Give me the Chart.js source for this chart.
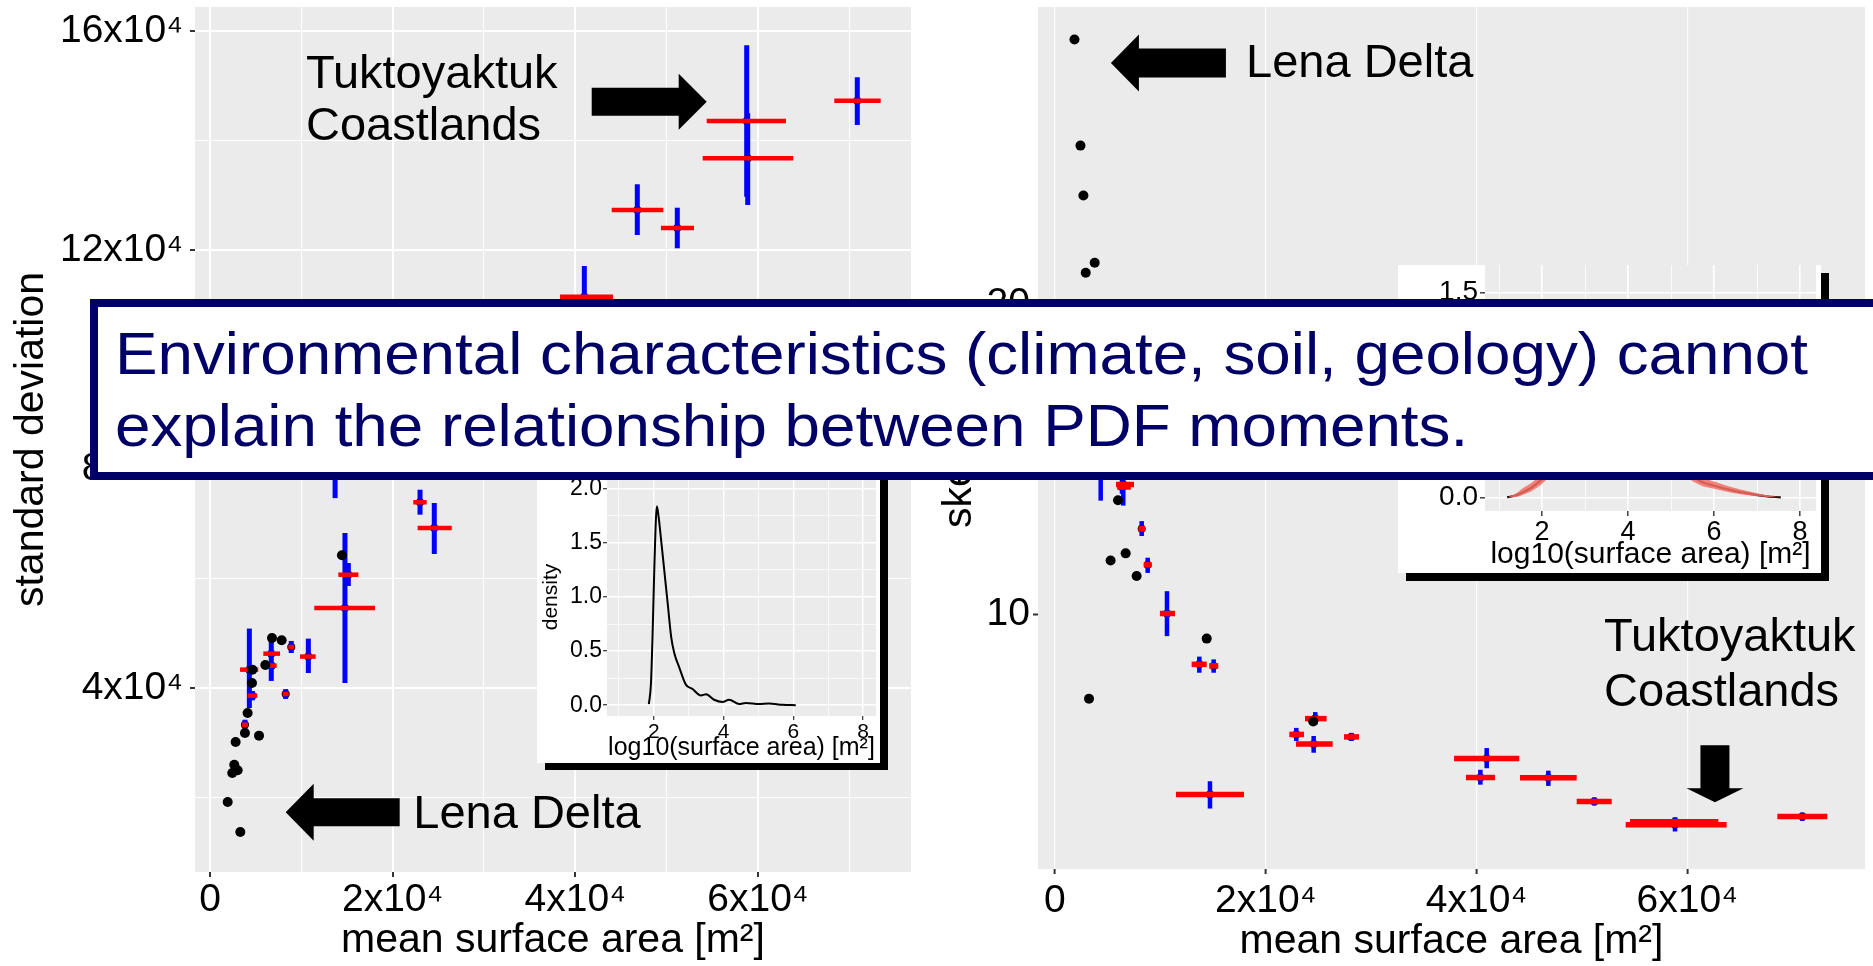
<!DOCTYPE html>
<html>
<head>
<meta charset="utf-8">
<script src="https://cdn.jsdelivr.net/npm/chart.js@4.4.0/dist/chart.umd.min.js"></script>
<style>
  html, body { margin: 0; padding: 0; background: #fff; }
  #page { position: relative; width: 1873px; height: 966px; overflow: hidden; background: #fff; }
  .box { position: absolute; }
  .shadow { position: absolute; background: #000; }
  .inset { position: absolute; background: #fff; }
  #banner {
    position: absolute; left: 90px; top: 299px; width: 1800px; height: 165px;
    background: #fff; border: 8px solid #000066; border-right: none;
  }
  #bannerText {
    position: absolute; left: 17px; top: 11px; white-space: nowrap;
    font-family: "Liberation Sans", Arial, sans-serif; font-size: 60px; line-height: 72px;
    color: #000066; transform-origin: 0 0;
  }
</style>
</head>
<body>
<div id="page">
  <div class="box" style="left:0;top:0;width:930px;height:966px"><canvas id="cL" width="930" height="966"></canvas></div>
  <div class="box" style="left:930px;top:0;width:943px;height:966px"><canvas id="cR" width="943" height="966"></canvas></div>

  <div class="shadow" style="left:545px;top:387px;width:343px;height:383px"></div>
  <div class="inset" style="left:537px;top:380px;width:343px;height:383px"><canvas id="iL" width="343" height="383"></canvas></div>

  <div class="shadow" style="left:1406px;top:273px;width:423px;height:308px"></div>
  <div class="inset" style="left:1398px;top:265px;width:423px;height:308px"><canvas id="iR" width="423" height="308"></canvas></div>

  <div id="banner"><div id="bannerText">Environmental characteristics (climate, soil, geology) cannot<br>explain the relationship between PDF moments.</div></div>
</div>
<script>
// ---- left panel: mean surface area vs standard deviation (sites with error bars)
var sdBarArea   = [58770, 58880, 70880, 46790, 51170, 40990, 13700, 23000, 24560, 15150, 14780, 4310, 4640, 3830, 8900, 6710, 6750, 10770, 8290];
var sdBarSd     = [143570, 136750, 147270, 127310, 124030, 111480, 82000, 73940, 69250, 60720, 54640, 43380, 38630, 33330, 47520, 46300, 44110, 45770, 38930];
var sdBarAreaLo = [54390, 53950, 68360, 43990, 49380, 38330, 12800, 22260, 22740, 14050, 11420, 3290, 4110, 3500, 8570, 5840, 6200, 9860, 7960];
var sdBarAreaHi = [63070, 63870, 73440, 49640, 53000, 44130, 14600, 23730, 26470, 16250, 18070, 5290, 5170, 4160, 9230, 7670, 7300, 11570, 8620];
var sdBarSdLo   = [129750, 128230, 142840, 122750, 120320, 105900, 74700, 71680, 64500, 58660, 40940, 36380, 37780, 32420, 46420, 41320, 43500, 42770, 38030];
var sdBarSdHi   = [157400, 145000, 151550, 132010, 127730, 117090, 89000, 76240, 73810, 62860, 68330, 50880, 39480, 34240, 48620, 48620, 44700, 49040, 39830];
// sites drawn as plain black dots
var sdDotArea = [14450, 4640, 4600, 4120, 3830, 5370, 2810, 2660, 2440, 3030, 1940, 3320, 6790, 7850, 6060];
var sdDotSd   = [64260, 43380, 40940, 35470, 31820, 31330, 30170, 26030, 24510, 25010, 19210, 13740, 49160, 48740, 44230];

// ---- right panel: mean surface area vs skewness
var skBarArea   = [4340, 6480, 6360, 8230, 8800, 10630, 13700, 15060, 24700, 22900, 24550, 28120, 14710, 40970, 40370, 46820, 51180, 58840, 58840, 70920];
var skBarSkew   = [14.6, 14.20, 14.12, 12.77, 11.61, 10.04, 8.40, 8.35, 6.65, 6.14, 5.83, 6.06, 4.20, 5.36, 4.75, 4.74, 3.98, 3.32, 3.23, 3.49];
var skBarAreaLo = [4100, 5790, 5900, 7920, 8430, 9960, 12970, 14640, 23730, 22240, 22870, 27430, 11480, 37870, 39000, 44130, 49510, 54570, 54160, 68550];
var skBarAreaHi = [4580, 7500, 7200, 8540, 9170, 11390, 14400, 15500, 25780, 23630, 26350, 28850, 17940, 44060, 41760, 49510, 52830, 62950, 63740, 73290];
var skBarSkewLo = [13.68, 13.52, 13.9, 12.54, 11.35, 9.31, 8.13, 8.13, 6.46, 5.93, 5.55, 5.93, 3.75, 5.05, 4.52, 4.48, 3.85, 3.25, 3.01, 3.35];
var skBarSkewHi = [15.5, 14.9, 14.35, 13.02, 11.84, 10.76, 8.65, 8.56, 6.86, 6.35, 6.09, 6.19, 4.63, 5.70, 5.00, 4.97, 4.11, 3.40, 3.47, 3.62];
var skDotArea = [1850, 2420, 2700, 3770, 2920, 5980, 6710, 5280, 7750, 14400, 3230, 24510];
var skDotSkew = [28.55, 25.13, 23.52, 21.35, 21.03, 13.69, 11.98, 11.75, 11.25, 9.23, 7.29, 6.56];

// ---- insets: density of log10(surface area)
var densLX = [1.86, 1.92, 1.97, 2.02, 2.09, 2.14, 2.21, 2.30, 2.40, 2.50, 2.59, 2.73, 2.92, 3.11, 3.35, 3.50, 3.73, 3.97, 4.16, 4.45, 4.64, 5.02, 5.30, 5.69, 6.07];
var densLY = [0.01, 0.2, 0.69, 1.31, 1.84, 1.74, 1.53, 1.25, 0.94, 0.63, 0.48, 0.35, 0.19, 0.15, 0.09, 0.10, 0.05, 0.03, 0.05, 0.01, 0.02, 0.01, 0.015, 0.003, 0];
var densRX  = [1.19, 1.4, 1.57, 1.75, 1.88, 2.2, 2.6, 3.0, 3.4, 3.8, 4.2, 4.6, 5.0, 5.35, 5.67, 6.0, 6.44, 6.8, 7.2, 7.55];
var densRY  = [0, 0.015, 0.04, 0.07, 0.10, 0.2, 0.38, 0.58, 0.74, 0.80, 0.76, 0.6, 0.38, 0.2, 0.12, 0.085, 0.05, 0.028, 0.008, 0];
var densRLo = [0, 0.002, 0.02, 0.045, 0.07, 0.16, 0.33, 0.53, 0.69, 0.75, 0.71, 0.55, 0.33, 0.16, 0.09, 0.062, 0.032, 0.015, 0.002, 0];
var densRHi = [0, 0.03, 0.07, 0.105, 0.14, 0.25, 0.44, 0.64, 0.80, 0.86, 0.82, 0.66, 0.44, 0.25, 0.16, 0.115, 0.072, 0.045, 0.017, 0];

// ---- tick values
var areaTicks  = [0, 20000, 40000, 60000];
var areaMinor  = [10000, 30000, 50000, 70000];
var sdTicks    = [40000, 80000, 120000, 160000];
var sdMinor    = [20000, 60000, 100000, 140000];
var skewTicks  = [10, 20];
var logTicks   = [2, 4, 6, 8];
var logMinor   = [1, 3, 5, 7];
var densTicksL = [0, 0.5, 1, 1.5, 2];
var densMinorL = [0.25, 0.75, 1.25, 1.75];
var densTicksR = [0, 0.5, 1, 1.5];
var densMinorR = [0.25, 0.75, 1.25];

var fam = '"Liberation Sans", Arial, sans-serif';

function pow4(v) { return v === 0 ? '0' : (v / 10000) + 'x10\u2074'; }
function oneDec(v) { return v.toFixed(1); }
function pts(xs, ys) { return xs.map(function (x, i) { return {x: x, y: ys[i]}; }); }

function axis(o) {
    var major = new Set(o.major);
    var all = o.major.concat(o.minor || []).sort(function (a, b) { return a - b; });
    var isMajor = function (c) { return c.tick && major.has(c.tick.value); };
    return {
        type: 'linear', min: o.min, max: o.max,
        afterBuildTicks: function (s) { s.ticks = all.map(function (v) { return {value: v}; }); },
        afterFit: function (s) {
            if (o.horiz) s.height = o.size; else s.width = o.size;
            s.paddingTop = s.paddingBottom = s.paddingLeft = s.paddingRight = 0;
        },
        border: {display: false},
        grid: {
            color: function (c) { return isMajor(c) ? o.gMajor : o.gMinor; },
            lineWidth: function (c) { return isMajor(c) ? o.wMajor : o.wMinor; },
            drawTicks: true,
            tickLength: o.tickLen,
            tickColor: function (c) { return isMajor(c) ? '#333333' : 'rgba(0,0,0,0)'; },
            tickWidth: o.tickW
        },
        ticks: {
            autoSkip: false, maxRotation: 0, minRotation: 0, padding: o.pad, color: '#000',
            font: {family: fam, size: o.font},
            callback: function (v) { return major.has(v) ? o.label(v) : ''; }
        },
        title: {
            display: true, text: o.title, color: '#000',
            font: {family: fam, size: o.titleFont}, padding: o.titlePad
        }
    };
}

var panelBg = {
    id: 'panelBg',
    beforeDraw: function (chart) {
        var a = chart.chartArea, ctx = chart.ctx;
        ctx.save();
        ctx.fillStyle = '#EBEBEB';
        ctx.fillRect(a.left, a.top, a.right - a.left, a.bottom - a.top);
        ctx.restore();
    }
};

function errorBars(b, blueW, redW) {
    return {
        id: 'errorBars',
        afterDatasetDraw: function (chart, args) {
            if (args.index !== 1) return;
            var ctx = chart.ctx, a = chart.chartArea, xs = chart.scales.x, ys = chart.scales.y;
            ctx.save();
            ctx.beginPath(); ctx.rect(a.left, a.top, a.right - a.left, a.bottom - a.top); ctx.clip();
            ctx.strokeStyle = '#0000FF'; ctx.lineWidth = blueW;
            b.x.forEach(function (v, i) {
                var px = xs.getPixelForValue(v);
                ctx.beginPath();
                ctx.moveTo(px, ys.getPixelForValue(b.yLo[i]));
                ctx.lineTo(px, ys.getPixelForValue(b.yHi[i]));
                ctx.stroke();
            });
            ctx.strokeStyle = '#FF0000'; ctx.lineWidth = redW;
            b.x.forEach(function (v, i) {
                var py = ys.getPixelForValue(b.y[i]);
                ctx.beginPath();
                ctx.moveTo(xs.getPixelForValue(b.xLo[i]), py);
                ctx.lineTo(xs.getPixelForValue(b.xHi[i]), py);
                ctx.stroke();
            });
            ctx.restore();
        }
    };
}

function drawArrow(ctx, tx, ty, dir, len, shaft, head, headW) {
    var d = {right: [1, 0], left: [-1, 0], down: [0, 1]}[dir];
    var n = [-d[1], d[0]];
    function p(a, b) { return [tx - d[0] * a + n[0] * b, ty - d[1] * a + n[1] * b]; }
    var poly = [p(0, 0), p(head, headW / 2), p(head, shaft / 2), p(len, shaft / 2),
                p(len, -shaft / 2), p(head, -shaft / 2), p(head, -headW / 2)];
    ctx.beginPath();
    poly.forEach(function (q, i) { if (i) ctx.lineTo(q[0], q[1]); else ctx.moveTo(q[0], q[1]); });
    ctx.closePath();
    ctx.fillStyle = '#000';
    ctx.fill();
}

function notes(cfg) {
    return {
        id: 'notes',
        afterDraw: function (chart) {
            var ctx = chart.ctx, xs = chart.scales.x, ys = chart.scales.y;
            ctx.save();
            cfg.arrows.forEach(function (a) {
                drawArrow(ctx, xs.getPixelForValue(a.x), ys.getPixelForValue(a.y), a.dir, a.len, a.shaft, a.head, a.headW);
            });
            ctx.fillStyle = '#000';
            ctx.font = cfg.size + 'px ' + fam;
            ctx.textBaseline = 'alphabetic';
            ctx.textAlign = 'left';
            cfg.texts.forEach(function (t) {
                var x = xs.getPixelForValue(t.x), y = ys.getPixelForValue(t.y);
                t.lines.forEach(function (s, i) { ctx.fillText(s, x, y + i * t.lead); });
            });
            ctx.restore();
        }
    };
}

function mainChart(id, dots, bars, xAxis, yAxis, pad, barW, note) {
    return new Chart(document.getElementById(id), {
        type: 'scatter',
        data: {
            datasets: [
                {data: dots, pointRadius: 5, backgroundColor: '#000', borderWidth: 0, order: 1},
                {data: pts(bars.x, bars.y), pointRadius: 4, backgroundColor: '#000', borderWidth: 0, order: 2}
            ]
        },
        options: {
            responsive: false, animation: false, events: [],
            layout: {padding: pad},
            plugins: {legend: {display: false}, tooltip: {enabled: false}},
            scales: {x: xAxis, y: yAxis}
        },
        plugins: [panelBg, errorBars(bars, barW[0], barW[1]), notes(note)]
    });
}

// left main panel
mainChart('cL',
    pts(sdDotArea, sdDotSd),
    {x: sdBarArea, y: sdBarSd, xLo: sdBarAreaLo, xHi: sdBarAreaHi, yLo: sdBarSdLo, yHi: sdBarSdHi},
    axis({horiz: true, min: -1640, max: 76760, major: areaTicks, minor: areaMinor, size: 94,
          gMajor: '#FFFFFF', gMinor: '#FFFFFF', wMajor: 2, wMinor: 1, tickLen: 5, tickW: 2,
          pad: 0, font: 39, label: pow4, title: 'mean surface area [m\u00B2]', titleFont: 41, titlePad: {top: 0, bottom: 1}}),
    axis({min: 6430, max: 164380, major: sdTicks, minor: sdMinor, size: 195,
          gMajor: '#FFFFFF', gMinor: '#FFFFFF', wMajor: 2, wMinor: 1, tickLen: 5, tickW: 2,
          pad: 7, font: 39, label: pow4, title: 'standard deviation', titleFont: 41, titlePad: {top: 7, bottom: 0}}),
    {top: 7, right: 19, left: 0, bottom: 0},
    [5, 4.5],
    {size: 47,
     texts: [{lines: ['Tuktoyaktuk', 'Coastlands'], x: 10510, y: 149590, lead: 52},
             {lines: ['Lena Delta'], x: 22260, y: 14470, lead: 0}],
     arrows: [{x: 54390, y: 147090, dir: 'right', len: 115, shaft: 28, head: 28, headW: 56},
              {x: 8290, y: 17340, dir: 'left', len: 114, shaft: 28, head: 28, headW: 57}]}
);

// right main panel
mainChart('cR',
    pts(skDotArea, skDotSkew),
    {x: skBarArea, y: skBarSkew, xLo: skBarAreaLo, xHi: skBarAreaHi, yLo: skBarSkewLo, yHi: skBarSkewHi},
    axis({horiz: true, min: -1610, max: 76870, major: areaTicks, minor: [], size: 97,
          gMajor: 'rgba(255,255,255,0.85)', gMinor: 'rgba(0,0,0,0)', wMajor: 1.2, wMinor: 0, tickLen: 5, tickW: 2,
          pad: 4, font: 39, label: pow4, title: 'mean surface area [m\u00B2]', titleFont: 41, titlePad: {top: 0, bottom: 0}}),
    axis({min: 1.8, max: 29.6, major: skewTicks, minor: [], size: 108,
          gMajor: 'rgba(0,0,0,0)', gMinor: 'rgba(0,0,0,0)', wMajor: 1, wMinor: 0, tickLen: 5, tickW: 2,
          pad: 3, font: 39, label: String, title: 'skewness', titleFont: 41, titlePad: {top: 5, bottom: 0}}),
    {top: 7, right: 8, left: 0, bottom: 0},
    [4.5, 5.5],
    {size: 47,
     texts: [{lines: ['Lena Delta'], x: 18130, y: 27.35, lead: 0},
             {lines: ['Tuktoyaktuk', 'Coastlands'], x: 52100, y: 8.82, lead: 55}],
     arrows: [{x: 5310, y: 27.79, dir: 'left', len: 115, shaft: 29, head: 28, headW: 57},
              {x: 62630, y: 3.95, dir: 'down', len: 57, shaft: 29, head: 14, headW: 57}]}
);

function insetChart(id, datasets, xAxis, yAxis, pad) {
    return new Chart(document.getElementById(id), {
        type: 'line',
        data: {datasets: datasets},
        options: {
            responsive: false, animation: false, events: [],
            layout: {padding: pad},
            plugins: {legend: {display: false}, tooltip: {enabled: false}},
            scales: {x: xAxis, y: yAxis}
        },
        plugins: [panelBg]
    });
}

insetChart('iL',
    [{data: pts(densLX, densLY), borderColor: '#000', borderWidth: 2, pointRadius: 0, cubicInterpolationMode: 'monotone', fill: false}],
    axis({horiz: true, min: 0.66, max: 8.37, major: logTicks, minor: logMinor, size: 47,
          gMajor: '#FFFFFF', gMinor: '#FFFFFF', wMajor: 1.4, wMinor: 0.7, tickLen: 4, tickW: 1.2,
          pad: 0, font: 21, label: String, title: 'log10(surface area) [m\u00B2]', titleFont: 25, titlePad: {top: 0, bottom: 0}}),
    axis({min: -0.1, max: 2.1, major: densTicksL, minor: densMinorL, size: 70,
          gMajor: '#FFFFFF', gMinor: '#FFFFFF', wMajor: 1.4, wMinor: 0.7, tickLen: 4, tickW: 1.2,
          pad: 1, font: 23, label: oneDec, title: 'density', titleFont: 21, titlePad: {top: 2, bottom: 0}}),
    {top: 98, right: 4, left: 0, bottom: 0}
);

insetChart('iR',
    [{data: pts(densRX, densRLo), borderWidth: 0, pointRadius: 0, cubicInterpolationMode: 'monotone', fill: false},
     {data: pts(densRX, densRHi), borderWidth: 0, pointRadius: 0, cubicInterpolationMode: 'monotone', fill: '-1', backgroundColor: 'rgba(244,110,100,0.85)'},
     {data: pts(densRX, densRY), borderColor: '#000', borderWidth: 2.2, pointRadius: 0, cubicInterpolationMode: 'monotone', fill: false}],
    axis({horiz: true, min: 0.674, max: 8.37, major: logTicks, minor: logMinor, size: 62,
          gMajor: '#FFFFFF', gMinor: '#FFFFFF', wMajor: 1.6, wMinor: 0.8, tickLen: 5, tickW: 1.4,
          pad: 0, font: 27, label: String, title: 'log10(surface area) [m\u00B2]', titleFont: 30, titlePad: {top: 0, bottom: 0}}),
    axis({min: -0.1, max: 1.7, major: densTicksR, minor: densMinorR, size: 87,
          gMajor: '#FFFFFF', gMinor: '#FFFFFF', wMajor: 1.6, wMinor: 0.8, tickLen: 5, tickW: 1.4,
          pad: 2, font: 28, label: oneDec, title: 'density', titleFont: 28, titlePad: {top: 2, bottom: 0}}),
    {top: 0, right: 5, left: 0, bottom: 0}
);

// stretch banner text to the width it has in the reference
var bt = document.getElementById('bannerText');
var mctx = document.createElement('canvas').getContext('2d');
mctx.font = '60px "Liberation Sans", Arial, sans-serif';
var w1 = mctx.measureText('Environmental characteristics (climate, soil, geology) cannot').width;
bt.style.transform = 'scaleX(' + (1693 / w1) + ')';
</script>
</body>
</html>
